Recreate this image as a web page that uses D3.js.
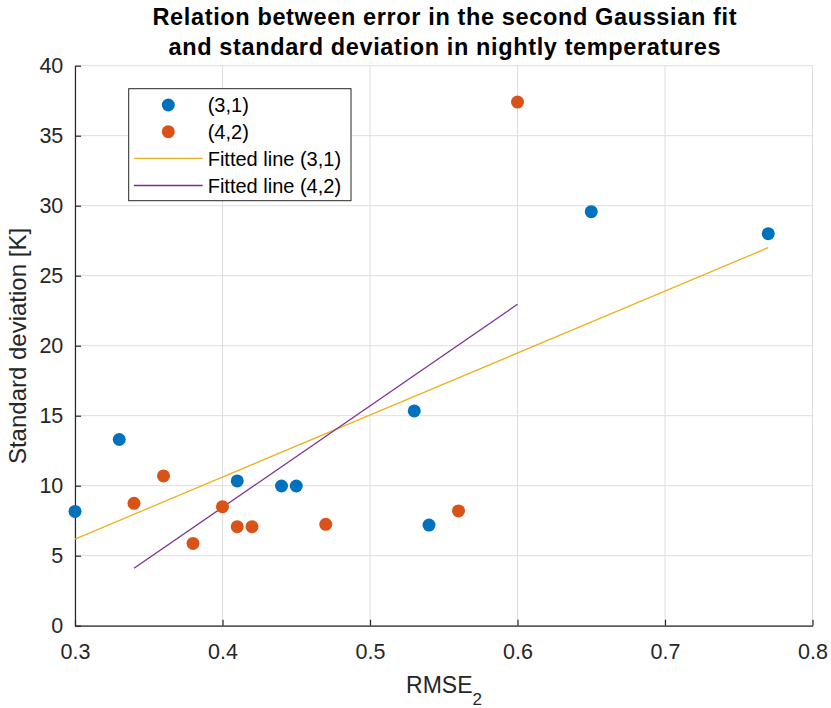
<!DOCTYPE html>
<html><head><meta charset="utf-8">
<script src="https://cdn.jsdelivr.net/npm/d3@7"></script>
<style>body{margin:0;background:#fff;} svg{display:block;} text{font-family:"Liberation Sans",Arial,Helvetica,sans-serif;}</style>
</head><body>
<svg id="chart" width="831" height="708"></svg>
<script>
// Data
const series31X = [0.30, 0.33, 0.41, 0.44, 0.45, 0.53, 0.54, 0.65, 0.77];
const series31Y = [8.16, 13.3, 10.34, 9.98, 9.98, 15.34, 7.19, 29.57, 28.0];
const series42X = [0.34, 0.36, 0.38, 0.40, 0.41, 0.42, 0.47, 0.56, 0.60];
const series42Y = [8.74, 10.7, 5.88, 8.5, 7.07, 7.07, 7.24, 8.2, 37.4];
const fit31X = [0.30, 0.77];
const fit31Y = [6.19, 27.0];
const fit42X = [0.34, 0.60];
const fit42Y = [4.1, 22.96];
const xTicks = [0.3, 0.4, 0.5, 0.6, 0.7, 0.8];
const yTicks = [0, 5, 10, 15, 20, 25, 30, 35, 40];
const legendLabels = ["(3,1)", "(4,2)", "Fitted line (3,1)", "Fitted line (4,2)"];
const titleLines = ["Relation between error in the second Gaussian fit", "and standard deviation in nightly temperatures"];

const colors = {s31: "#0072BD", s42: "#D95319", f31: "#EDB120", f42: "#7E2F8E"};
const axisColor = "#262626";

const svg = d3.select("#chart");
const L = 75, R = 812.5, T = 65.7, B = 625.7;
const x = d3.scaleLinear().domain([0.3, 0.8]).range([L, R]);
const y = d3.scaleLinear().domain([0, 40]).range([B, T]);

// grid
const grid = svg.append("g");
grid.selectAll("line.vx").data(xTicks).join("line")
  .attr("x1", d => x(d)).attr("x2", d => x(d)).attr("y1", T).attr("y2", B)
  .attr("stroke", "#dedede").attr("stroke-width", 1);
grid.selectAll("line.hy").data(yTicks).join("line")
  .attr("x1", L).attr("x2", R).attr("y1", d => y(d)).attr("y2", d => y(d))
  .attr("stroke", "#dedede").attr("stroke-width", 1);

// axes
const xAxis = svg.append("g").attr("transform", `translate(0,${B})`)
  .call(d3.axisBottom(x).tickValues(xTicks).tickFormat(d3.format(".1f")).tickSizeInner(-6).tickSizeOuter(0).tickPadding(18));
const yAxis = svg.append("g").attr("transform", `translate(${L},0)`)
  .call(d3.axisLeft(y).tickValues(yTicks).tickFormat(d3.format("d")).tickSizeInner(-6).tickSizeOuter(0).tickPadding(11.7));
[xAxis, yAxis].forEach(g => {
  g.select(".domain").attr("stroke", axisColor).attr("stroke-width", 1.2);
  g.selectAll(".tick line").attr("stroke", axisColor).attr("stroke-width", 1.2);
  g.selectAll(".tick text").attr("fill", axisColor).style("font-size", "21.5px")
    .style("font-family", '"Liberation Sans",Arial,sans-serif');
});

// fitted lines
const line = d3.line().x(d => x(d[0])).y(d => y(d[1]));
svg.append("path").datum(d3.zip(fit31X, fit31Y)).attr("d", line)
  .attr("fill", "none").attr("stroke", colors.f31).attr("stroke-width", 1.3);
svg.append("path").datum(d3.zip(fit42X, fit42Y)).attr("d", line)
  .attr("fill", "none").attr("stroke", colors.f42).attr("stroke-width", 1.3);

// points
svg.append("g").selectAll("circle").data(d3.zip(series31X, series31Y)).join("circle")
  .attr("cx", d => x(d[0])).attr("cy", d => y(d[1])).attr("r", 6.5).attr("fill", colors.s31);
svg.append("g").selectAll("circle").data(d3.zip(series42X, series42Y)).join("circle")
  .attr("cx", d => x(d[0])).attr("cy", d => y(d[1])).attr("r", 6.5).attr("fill", colors.s42);

// title
const titleLen = [584, 552];
svg.append("g").selectAll("text").data(titleLines).join("text")
  .attr("x", 444.5).attr("y", (d, i) => 24.5 + i * 30)
  .attr("text-anchor", "middle").attr("fill", "#000")
  .attr("textLength", (d, i) => titleLen[i]).attr("lengthAdjust", "spacing")
  .style("font-size", "23.5px").style("font-weight", "bold").text(d => d);

// axis labels
const xl = svg.append("text").attr("x", 444).attr("y", 693.3)
  .attr("text-anchor", "middle").attr("fill", axisColor).style("font-size", "23px");
xl.append("tspan").text("RMSE");
xl.append("tspan").attr("dy", 11.5).style("font-size", "17px").text("2");

svg.append("text").attr("transform", `translate(25.5,346) rotate(-90)`)
  .attr("text-anchor", "middle").attr("fill", axisColor).style("font-size", "24px")
  .text("Standard deviation [K]");

// legend
const lg = svg.append("g");
lg.append("rect").attr("x", 128.7).attr("y", 88.7).attr("width", 222.3).attr("height", 112)
  .attr("fill", "#fff").attr("stroke", axisColor).attr("stroke-width", 1);
const rowY = [105, 131.7, 158.3, 185.5];
const kinds = [{t: "dot", c: colors.s31}, {t: "dot", c: colors.s42}, {t: "line", c: colors.f31}, {t: "line", c: colors.f42}];
legendLabels.forEach((lab, i) => {
  const k = kinds[i];
  if (k.t === "dot") {
    lg.append("circle").attr("cx", 168.3).attr("cy", rowY[i]).attr("r", 6.5).attr("fill", k.c);
  } else {
    lg.append("line").attr("x1", 134).attr("x2", 202.7).attr("y1", rowY[i]).attr("y2", rowY[i])
      .attr("stroke", k.c).attr("stroke-width", 1.3);
  }
  lg.append("text").attr("x", 207.7).attr("y", rowY[i]).attr("dy", "0.36em")
    .attr("fill", "#000").style("font-size", "20px").text(lab);
});
</script>
</body></html>
